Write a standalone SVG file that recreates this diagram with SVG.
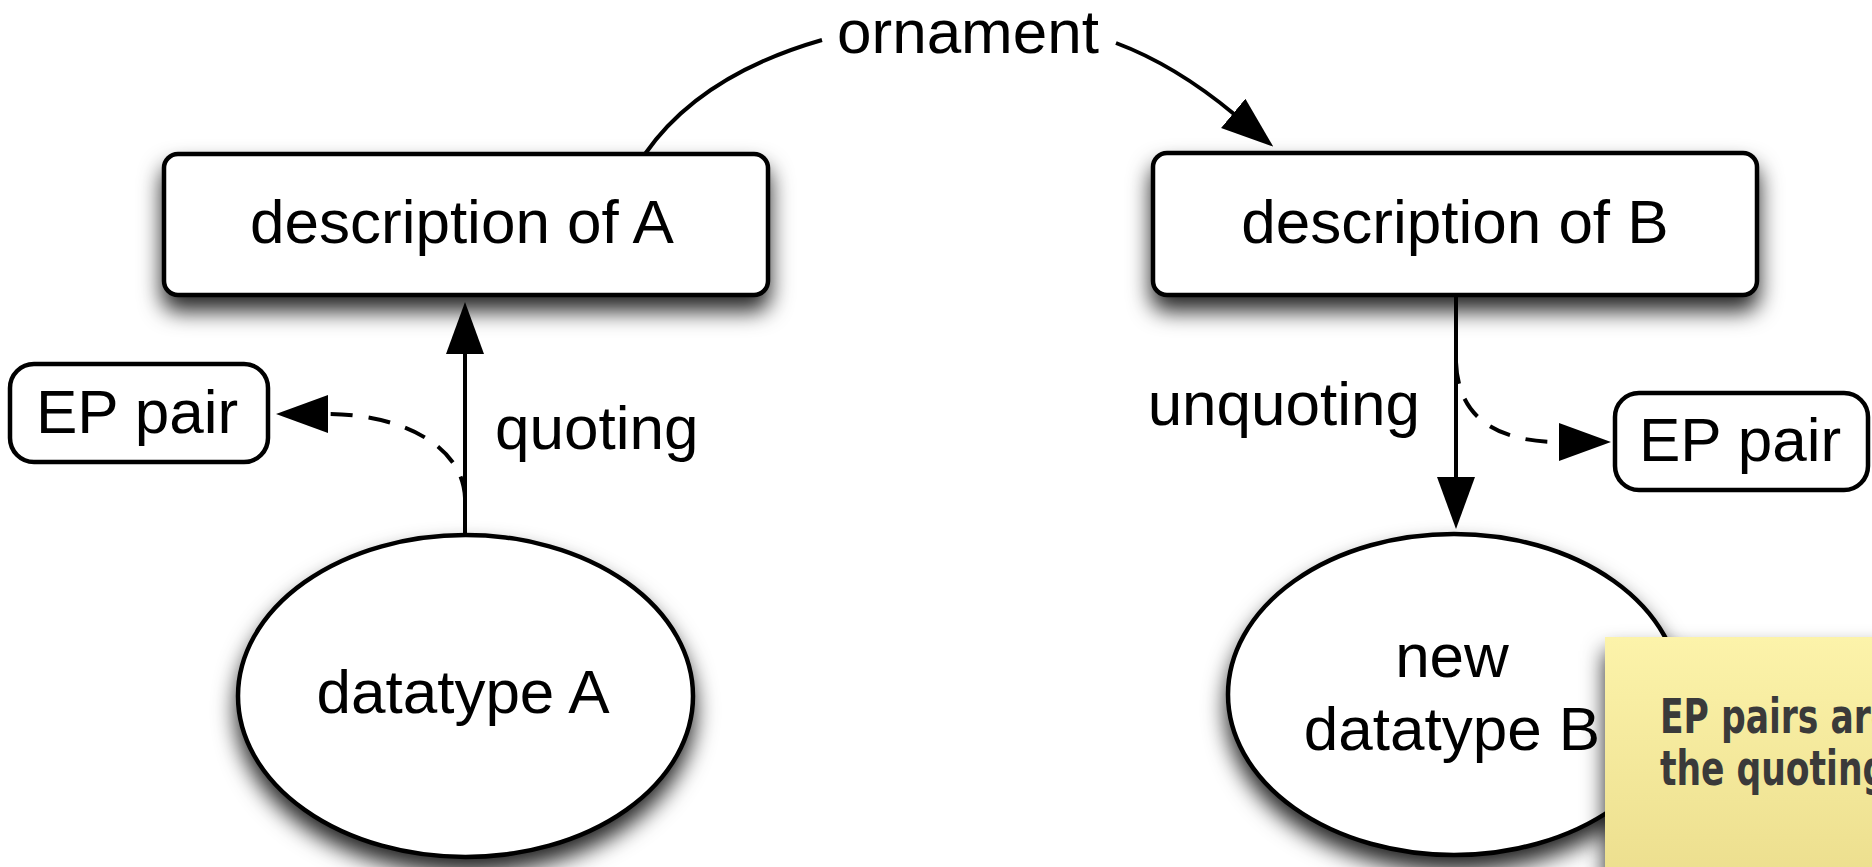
<svg xmlns="http://www.w3.org/2000/svg" width="1872" height="867" viewBox="0 0 1872 867">
<style>
.lbl{font-family:"Liberation Sans",Arial,sans-serif;font-size:62px;fill:#000}
.shape{fill:#fff;stroke:#000;stroke-width:4.5}
.edge{fill:none;stroke:#000;stroke-width:4}
.dash{stroke-dasharray:22 16}
.note{font-family:"DejaVu Sans Condensed","DejaVu Sans",sans-serif;font-stretch:condensed;font-weight:bold;font-size:48px;fill:#3a3a3a}
</style>
<defs>
<filter id="shadow" x="-20%" y="-20%" width="140%" height="160%">
<feDropShadow dx="0" dy="14" stdDeviation="11" flood-color="#000" flood-opacity="0.85"/>
</filter>
<linearGradient id="noteGrad" x1="0" y1="0" x2="0" y2="1">
<stop offset="0" stop-color="#fcf3aa"/>
<stop offset="1" stop-color="#ebdd8c"/>
</linearGradient>
<marker id="arrow" markerUnits="userSpaceOnUse" markerWidth="54" markerHeight="40" viewBox="0 0 54 40" refX="1" refY="20" orient="auto">
<path d="M0,1 L52,20 L0,39 z" fill="#000"/>
</marker>
</defs>

<g id="descA">
<rect class="shape" x="164" y="154" width="604" height="141" rx="14" filter="url(#shadow)"/>
<text class="lbl" x="462" y="243" text-anchor="middle">description of A</text>
</g>
<g id="descB">
<rect class="shape" x="1153" y="153" width="604" height="142" rx="14" filter="url(#shadow)"/>
<text class="lbl" x="1455" y="243" text-anchor="middle">description of B</text>
</g>
<g id="epLeft">
<rect class="shape" x="10" y="364" width="258" height="98" rx="24"/>
<text class="lbl" x="137" y="433" text-anchor="middle">EP pair</text>
</g>
<g id="epRight">
<rect class="shape" x="1615" y="393" width="253" height="97" rx="24"/>
<text class="lbl" x="1740" y="461" text-anchor="middle">EP pair</text>
</g>
<g id="datatypeA">
<ellipse class="shape" cx="465.5" cy="696" rx="227.5" ry="161" filter="url(#shadow)"/>
<text class="lbl" x="463" y="713" text-anchor="middle">datatype A</text>
</g>
<g id="datatypeB">
<ellipse class="shape" cx="1454" cy="694.5" rx="226" ry="160.5" filter="url(#shadow)"/>
<text class="lbl" x="1452" y="677" text-anchor="middle">new</text>
<text class="lbl" x="1452" y="750" text-anchor="middle">datatype B</text>
</g>

<g id="connectors">
<path class="edge" d="M645,154 Q700,75 822,40"/>
<path class="edge" d="M1116,43 Q1175,65 1234,114" marker-end="url(#arrow)"/>
<text class="lbl" x="968" y="53" text-anchor="middle">ornament</text>
<path class="edge" d="M465,537 L465,353" marker-end="url(#arrow)"/>
<text class="lbl" x="495" y="449">quoting</text>
<path class="edge dash" d="M465,498 C463,445 400,414 327,414" marker-end="url(#arrow)"/>
<path class="edge" d="M1456,296 L1456,478" marker-end="url(#arrow)"/>
<text class="lbl" x="1420" y="425" text-anchor="end">unquoting</text>
<path class="edge dash" d="M1456,362 C1458,420 1500,442 1560,442" marker-end="url(#arrow)"/>
</g>

<g id="stickyNote">
<rect x="1605" y="637" width="300" height="260" fill="url(#noteGrad)" filter="url(#shadow)"/>
<text class="note" transform="translate(1660,733) scale(0.8,1)">EP pairs are</text>
<text class="note" transform="translate(1660,785) scale(0.8,1)">the quoting</text>
</g>
</svg>
